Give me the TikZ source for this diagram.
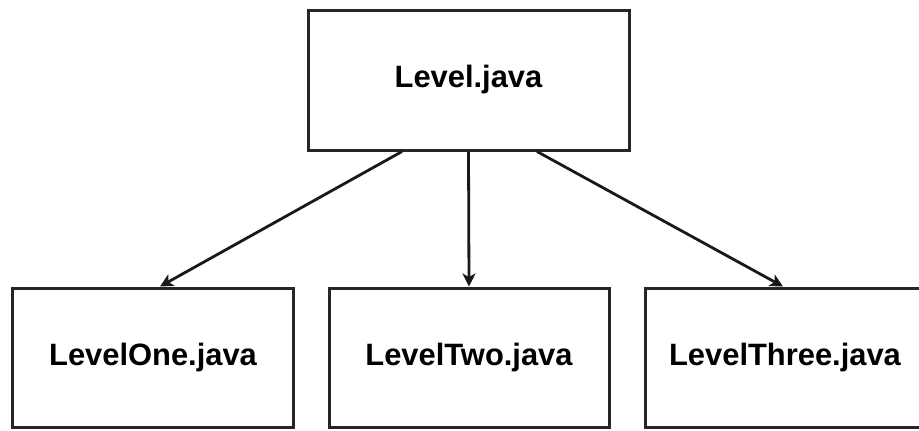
\documentclass[tikz,border=0pt]{standalone}
\usepackage{fontspec}
\setmainfont{Liberation Sans}
\usetikzlibrary{arrows.meta, positioning}

\tikzset{
  classe/.style={draw=black!85, line width=3bp, fill=white, inner sep=0pt,
    minimum width=280bp, minimum height=139bp,
    font=\fontsize{31}{37}\selectfont\bfseries},
  heranca/.style={draw=black!90, line width=2.8bp,
    -{Stealth[length=13bp, width=13bp, inset=3.5bp]}}
}

\begin{document}
\begin{tikzpicture}[x=1bp, y=-1bp]
  \useasboundingbox (0,0) rectangle (919,430);

  % classe base
  \node[classe, minimum width=321bp, minimum height=140bp] (level) at (468.5,80) {Level.java};

  % subclasses
  \node[classe] (one)   at (153,357.5) {LevelOne.java};
  \node[classe] (two)   at (469,357.5) {LevelTwo.java};
  \node[classe] (three) at (785,357.5) {LevelThree.java};

  % setas
  \draw[heranca] ([xshift=-66.5bp]level.south) -- ([xshift=7bp]one.north);
  \draw[heranca] (level.south) -- (two.north);
  \draw[heranca] ([xshift=68.5bp]level.south) -- ([xshift=-2bp]three.north);
\end{tikzpicture}
\end{document}
